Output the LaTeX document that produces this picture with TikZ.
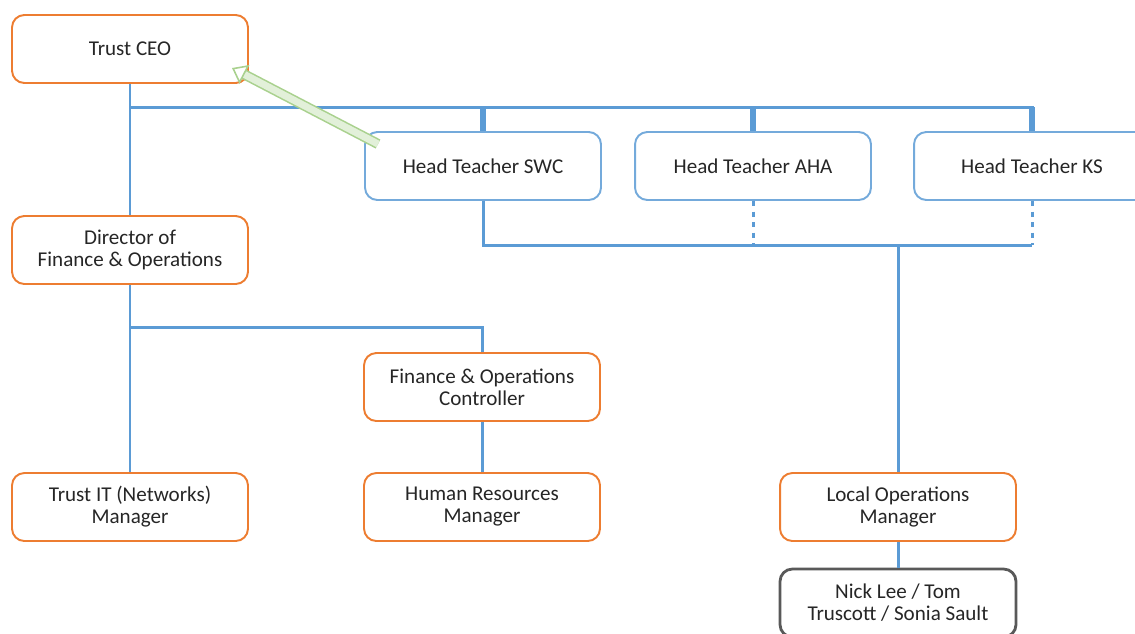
\documentclass[tikz,border=0pt]{standalone}
\usepackage{fontspec}
\setmainfont{Carlito}
\usetikzlibrary{arrows.meta}
\definecolor{boxorange}{HTML}{ED7D31}
\definecolor{lineblue}{HTML}{5B9BD5}
\definecolor{hintgreen}{HTML}{A9D18E}
\definecolor{hintfill}{HTML}{E2F0D9}
\tikzset{
  orgbox/.style={draw=boxorange, line width=1.1pt, rounded corners=7pt, fill=white,
    minimum width=4.72cm, minimum height=1.36cm, align=center,
    font=\fontsize{12}{12.5}\selectfont, text=black!85},
  headbox/.style={orgbox, draw=lineblue!85},
  staffbox/.style={orgbox, draw=black!65, line width=1.6pt},
  link/.style={draw=lineblue, line width=1.7pt},
  stub/.style={link, line width=3.2pt},
  hint/.style={draw=hintgreen, double=hintfill, double distance=4pt, line width=0.9pt,
    -{Triangle[open, length=8pt, width=12pt]}}
}
\begin{document}
\begin{tikzpicture}[x=0.02cm, y=-0.02cm]
    \useasboundingbox (0,0) rectangle (1135,633);
    \clip (0,0) rectangle (1135,633);
    \node[orgbox] at (130,49) (ceo) {Trust CEO};
    \node[orgbox] at (130,250) (dfo) {Director of\\Finance \& Operations};
    \node[headbox] at (483,166) (swc) {Head Teacher SWC};
    \node[headbox] at (753,166) (aha) {Head Teacher AHA};
    \node[headbox] at (1032,166) (ks) {Head Teacher KS};
    \node[orgbox] at (482,387) (foc) {Finance \& Operations\\Controller};
    \node[orgbox] at (130,507) (itm) {Trust IT (Networks)\\Manager};
    \node[orgbox] at (482,507) (hrm) {Human Resources\\Manager};
    \node[orgbox] at (898,507) (lom) {Local Operations\\Manager};
    \node[staffbox] at (898,603) (staff) {Nick Lee / Tom\\Truscott / Sonia Sault};

    \coordinate (topbus) at (130,107);
    \coordinate (midbus) at (898,245);
    \coordinate (finbus) at (130,327);
    \coordinate (hinttail) at (378,144);
    \coordinate (hinthead) at (232,68);

    \draw[link] (ceo.south) -- (dfo.north);
    \draw[link] (topbus) -| (ks.north);
    \draw[stub] (swc.north) -- (swc.north |- topbus);
    \draw[stub] (aha.north) -- (aha.north |- topbus);
    \draw[stub] (ks.north) -- (ks.north |- topbus);
    \draw[link] (dfo.south) -- (itm.north);
    \draw[link] (finbus) -| (foc.north);
    \draw[link] (foc.south) -- (hrm.north);
    \draw[link] (swc.south) |- (ks.south |- midbus);
    \draw[link, dashed] (aha.south) -- (aha.south |- midbus);
    \draw[link, dashed] (ks.south) -- (ks.south |- midbus);
    \draw[link] (midbus) -- (lom.north);
    \draw[link] (lom.south) -- (staff.north);
    \draw[hint] (hinttail) -- (hinthead);
\end{tikzpicture}
\end{document}
